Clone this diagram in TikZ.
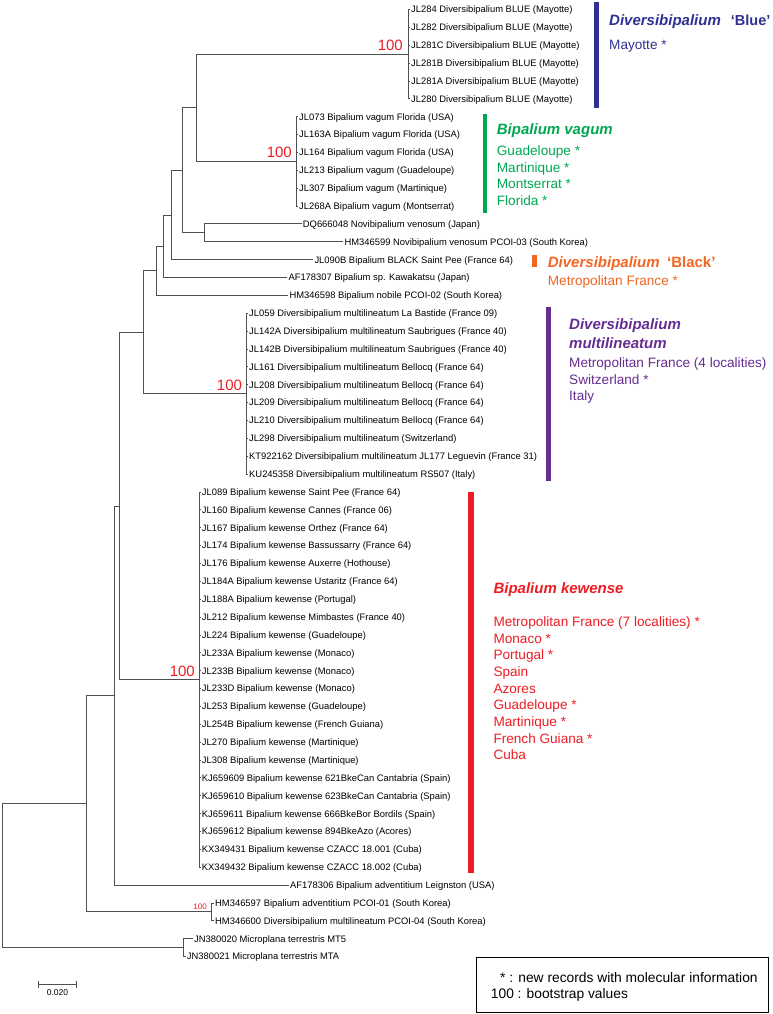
\documentclass[tikz,border=0pt]{standalone}
\usepackage{fontspec}
\setmainfont{Liberation Sans}
\definecolor{cblue}{HTML}{2E3192}
\definecolor{cgreen}{HTML}{00A651}
\definecolor{corange}{HTML}{F26522}
\definecolor{cpurple}{HTML}{662D91}
\definecolor{cred}{HTML}{ED1C24}
\definecolor{treegray}{HTML}{505050}
\begin{document}
\begin{tikzpicture}[x=1pt,y=-1pt,
  tree/.style={draw=treegray,line width=0.9pt},
  leaf/.style={anchor=west,inner xsep=1pt,inner ysep=0pt,text height=6.7pt,text depth=0pt,font=\fontsize{9.4}{11}\selectfont},
  boot/.style={anchor=base east,inner sep=0pt,text=cred,font=\fontsize{15}{18}\selectfont},
  head/.style={anchor=base west,inner sep=0pt,font=\fontsize{15}{18}\selectfont\bfseries\itshape},
  loc/.style={anchor=base west,inner sep=0pt,font=\fontsize{13.6}{16.6}\selectfont},
  legtxt/.style={anchor=base west,inner sep=0pt,font=\fontsize{13.8}{16.6}\selectfont},
]
\useasboundingbox (0,0) rectangle (772,1014);

% internal nodes
\coordinate (Nblue) at (408,54.18);
\coordinate (Nvag) at (296,161.4);
\coordinate (N197) at (196.7,107.8);
\coordinate (Nnovi) at (204.3,232.9);
\coordinate (N182) at (182.3,170.3);
\coordinate (N171) at (171.5,215.0);
\coordinate (N164) at (163.8,246.3);
\coordinate (N156) at (156.7,270.8);
\coordinate (Nmul) at (246.7,393.7);
\coordinate (N143) at (143.8,332.3);
\coordinate (Nkew) at (199,679.6);
\coordinate (N119) at (119.5,506.0);
\coordinate (N114) at (114.3,695.6);
\coordinate (Nhm) at (211.7,911.9);
\coordinate (N86) at (86.7,803.7);
\coordinate (Nmic) at (183.3,947.7);
\coordinate (Nroot) at (2,875.7);

% Blue clade
\foreach \i/\t in {0/{JL284 Diversibipalium BLUE (Mayotte)},1/{JL282 Diversibipalium BLUE (Mayotte)},2/{JL281C Diversibipalium BLUE (Mayotte)},3/{JL281B Diversibipalium BLUE (Mayotte)},4/{JL281A Diversibipalium BLUE (Mayotte)},5/{JL280 Diversibipalium BLUE (Mayotte)}}{
  \node[leaf] (l\i) at (410,{9.5+17.87*\i}) {\t};
  \draw[tree] (Nblue) |- (l\i.west);
}
% vagum clade
\foreach \i/\t in {6/{JL073 Bipalium vagum Florida (USA)},7/{JL163A Bipalium vagum Florida (USA)},8/{JL164 Bipalium vagum Florida (USA)},9/{JL213 Bipalium vagum (Guadeloupe)},10/{JL307 Bipalium vagum (Martinique)},11/{JL268A Bipalium vagum (Montserrat)}}{
  \node[leaf] (l\i) at (298,{9.5+17.87*\i}) {\t};
  \draw[tree] (Nvag) |- (l\i.west);
}
\node[leaf] (l12) at (301.7,223.94) {DQ666048 Novibipalium venosum (Japan)};
\node[leaf] (l13) at (343.3,241.81) {HM346599 Novibipalium venosum PCOI-03 (South Korea)};
\node[leaf] (l14) at (313.3,259.68) {JL090B Bipalium BLACK Saint Pee (France 64)};
\node[leaf] (l15) at (287.3,277.55) {AF178307 Bipalium sp. Kawakatsu (Japan)};
\node[leaf] (l16) at (288.3,295.42) {HM346598 Bipalium nobile PCOI-02 (South Korea)};
% multilineatum clade
\foreach \i/\t in {17/{JL059 Diversibipalium multilineatum La Bastide (France 09)},18/{JL142A Diversibipalium multilineatum Saubrigues (France 40)},19/{JL142B Diversibipalium multilineatum Saubrigues (France 40)},20/{JL161 Diversibipalium multilineatum Bellocq (France 64)},21/{JL208 Diversibipalium multilineatum Bellocq (France 64)},22/{JL209 Diversibipalium multilineatum Bellocq (France 64)},23/{JL210 Diversibipalium multilineatum Bellocq (France 64)},24/{JL298 Diversibipalium multilineatum (Switzerland)},25/{KT922162 Diversibipalium multilineatum JL177 Leguevin (France 31)},26/{KU245358 Diversibipalium multilineatum RS507 (Italy)}}{
  \node[leaf] (l\i) at (248,{9.5+17.87*\i}) {\t};
  \draw[tree] (Nmul) |- (l\i.west);
}
% kewense clade
\foreach \i/\t in {27/{JL089 Bipalium kewense Saint Pee (France 64)},28/{JL160 Bipalium kewense Cannes (France 06)},29/{JL167 Bipalium kewense Orthez (France 64)},30/{JL174 Bipalium kewense Bassussarry (France 64)},31/{JL176 Bipalium kewense Auxerre (Hothouse)},32/{JL184A Bipalium kewense Ustaritz (France 64)},33/{JL188A Bipalium kewense (Portugal)},34/{JL212 Bipalium kewense Mimbastes (France 40)},35/{JL224 Bipalium kewense (Guadeloupe)},36/{JL233A Bipalium kewense (Monaco)},37/{JL233B Bipalium kewense (Monaco)},38/{JL233D Bipalium kewense (Monaco)},39/{JL253 Bipalium kewense (Guadeloupe)},40/{JL254B Bipalium kewense (French Guiana)},41/{JL270 Bipalium kewense (Martinique)},42/{JL308 Bipalium kewense (Martinique)},43/{KJ659609 Bipalium kewense 621BkeCan Cantabria (Spain)},44/{KJ659610 Bipalium kewense 623BkeCan Cantabria (Spain)},45/{KJ659611 Bipalium kewense 666BkeBor Bordils (Spain)},46/{KJ659612 Bipalium kewense 894BkeAzo (Acores)},47/{KX349431 Bipalium kewense CZACC 18.001 (Cuba)},48/{KX349432 Bipalium kewense CZACC 18.002 (Cuba)}}{
  \node[leaf] (l\i) at (200.7,{9.5+17.87*\i}) {\t};
  \draw[tree] (Nkew) |- (l\i.west);
}
\node[leaf] (l49) at (289,885.13) {AF178306 Bipalium adventitium Leignston (USA)};
\node[leaf] (l50) at (214,903.0) {HM346597 Bipalium adventitium PCOI-01 (South Korea)};
\node[leaf] (l51) at (214,920.87) {HM346600 Diversibipalium multilineatum PCOI-04 (South Korea)};
\node[leaf] (l52) at (193,938.74) {JN380020 Microplana terrestris MT5};
\node[leaf] (l53) at (185.7,956.61) {JN380021 Microplana terrestris MTA};

% branches
\draw[tree] (N197) |- (Nblue);
\draw[tree] (N197) |- (Nvag);
\draw[tree] (Nnovi) |- (l12.west);
\draw[tree] (Nnovi) |- (l13.west);
\draw[tree] (N182) |- (N197);
\draw[tree] (N182) |- (Nnovi);
\draw[tree] (N171) |- (N182);
\draw[tree] (N171) |- (l14.west);
\draw[tree] (N164) |- (N171);
\draw[tree] (N164) |- (l15.west);
\draw[tree] (N156) |- (N164);
\draw[tree] (N156) |- (l16.west);
\draw[tree] (N143) |- (N156);
\draw[tree] (N143) |- (Nmul);
\draw[tree] (N119) |- (N143);
\draw[tree] (N119) |- (Nkew);
\draw[tree] (N114) |- (N119);
\draw[tree] (N114) |- (l49.west);
\draw[tree] (Nhm) |- (l50.west);
\draw[tree] (Nhm) |- (l51.west);
\draw[tree] (N86) |- (N114);
\draw[tree] (N86) |- (Nhm);
\draw[tree] (Nmic) |- (l52.west);
\draw[tree] (Nmic) |- (l53.west);
\draw[tree] (Nroot) |- (N86);
\draw[tree] (Nroot) |- (Nmic);

% bootstrap values
\node[boot] (b1) at (403,50.6) {100};
\node[boot] (b2) at (292,157.9) {100};
\node[boot] (b3) at (242.2,390.2) {100};
\node[boot] (b4) at (195,676.1) {100};
\node[boot,font=\fontsize{8}{9}\selectfont] (b5) at (207,909.6) {100};

% clade bars
\fill[cblue] (593.7,1.7) rectangle (598.7,108.3);
\fill[cgreen] (482.7,114.3) rectangle (487.3,213.3);
\fill[corange] (531.7,255) rectangle (536.7,266.7);
\fill[cpurple] (546,306.7) rectangle (550.7,480.7);
\fill[cred] (468.3,491.7) rectangle (474,873.3);

% clade labels (multi-line nodes: base = last baseline)
\node[head,text=cblue] (hblue) at (609,25.4) {Diversibipalium\hspace{10pt}\upshape\fontsize{14.5}{17}\selectfont ‘Blue’};
\node[loc,text=cblue] (mblue) at (609,49.9) {Mayotte *};

\node[head,text=cgreen] (hvag) at (496.7,134.7) {Bipalium vagum};
\node[loc,text=cgreen,align=left] (mvag) at (496.7,205.4) {Guadeloupe *\\Martinique *\\Montserrat *\\Florida *};

\node[head,text=corange] (hblack) at (547.7,267.1) {Diversibipalium\hspace{7.5pt}\upshape ‘Black’};
\node[loc,text=corange] (mblack) at (547.7,285.9) {Metropolitan France *};

\node[head,text=cpurple,align=left,font=\fontsize{15}{18.4}\selectfont\bfseries\itshape] (hmul) at (569,348.1) {Diversibipalium\\multilineatum};
\node[loc,text=cpurple,align=left] (mmul) at (569,400.8) {Metropolitan France (4 localities)\\Switzerland *\\Italy};

\node[head,text=cred] (hkew) at (493.3,593.7) {Bipalium kewense};
\node[loc,text=cred,align=left,font=\fontsize{13.6}{16.67}\selectfont] (mkew) at (493.3,759.96) {Metropolitan France (7 localities) *\\Monaco *\\Portugal *\\Spain\\Azores\\Guadeloupe *\\Martinique *\\French Guiana *\\Cuba};

% scale bar
\coordinate (sbL) at (38.3,984);
\coordinate (sbR) at (76.7,984);
\draw[tree,line width=0.8pt] (sbL) -- (sbR);
\draw[tree,line width=0.8pt] ([yshift=-3.5pt]sbL) -- ([yshift=3.5pt]sbL);
\draw[tree,line width=0.8pt] ([yshift=-3.5pt]sbR) -- ([yshift=3.5pt]sbR);
\node[anchor=base,inner sep=0pt,font=\fontsize{8.5}{10}\selectfont] (sblab) at (57.5,995.3) {0.020};

% legend
\node[draw,line width=1.2pt,anchor=north west,minimum width=291.7pt,minimum height=55pt,inner sep=0pt] (legend) at (476,956.7) {};
\node[legtxt] (leg1) at (500,982.2) {* : new records with molecular information};
\node[legtxt] (leg2) at (490.7,998.9) {100 : bootstrap values};
\end{tikzpicture}
\end{document}
